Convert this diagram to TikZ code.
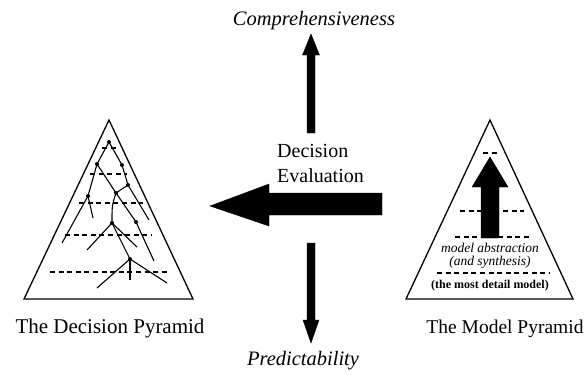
\documentclass[tikz,border=0pt]{standalone}
\usepackage{fontspec}
\setmainfont{Liberation Serif}
\begin{document}
\begin{tikzpicture}[x=1pt,y=-1pt,
  tri/.style={draw=black,line width=1.3pt,line join=miter},
  dl/.style={draw=black,line width=1.2pt,dash pattern=on 5pt off 3.6pt},
  br/.style={draw=black,line width=1.1pt},
  dot/.style={circle,fill=black,inner sep=0pt,minimum size=4pt},
  blk/.style={fill=black,draw=black,line width=0.4pt,line join=miter},
  title/.style={anchor=base},
  axis/.style={font=\fontsize{20.5}{24}\selectfont\itshape,anchor=base},
  lbl/.style={font=\fontsize{20}{24}\selectfont,anchor=base west,inner sep=0pt}]
\useasboundingbox (0,0) rectangle (587,383);
% ---------------- left pyramid
\coordinate (la) at (109,120);
\coordinate (ll) at (24,299);
\coordinate (lr) at (193,299);
\draw[tri] (la) -- (ll) -- (lr) -- cycle;
% dashed levels
\draw[dl] (102,148) -- (116,148);
\draw[dl] (90,174) -- (127,174);
\draw[dl] (79,203) -- (143,203);
\draw[dl] (65,235) -- (152,235);
\draw[dl] (50,272) -- (168,272);
% tree
\node[dot] (A) at (109,142) {};
\node[dot] (B) at (97,164) {};
\node[dot] (C) at (122,165) {};
\node[dot] (D) at (128,185) {};
\node[dot] (E) at (116,193) {};
\node[dot] (F) at (88,196) {};
\node[dot] (G) at (136,222) {};
\node[dot] (H) at (112,223) {};
\node[dot] (I) at (130,259) {};
\coordinate (F1) at (62,243);
\coordinate (F2) at (93,218);
\coordinate (D1) at (149,220);
\coordinate (G1) at (154,261);
\coordinate (H1) at (87,250);
\coordinate (H2) at (137,247);
\coordinate (I1) at (97,288);
\coordinate (I2) at (130,280);
\coordinate (I3) at (167,283);
\draw[br] (A.center) -- (B.center) -- (F.center) -- (F1);
\draw[br] (F.center) -- (F2);
\draw[br] (A.center) -- (C.center) -- (D.center) -- (D1);
\draw[br] (D.center) -- (E.center);
\draw[br] (B.center) -- (E.center) -- (G.center) -- (G1);
\draw[br] (E.center) .. controls (112,205) .. (H.center);
\draw[br] (H.center) -- (H1);
\draw[br] (H.center) -- (H2);
\draw[br] (H.center) -- (I.center);
\draw[br] (I.center) -- (I1);
\draw[br] (I.center) -- (I2);
\draw[br] (I.center) -- (I3);
\node[title,font=\fontsize{21}{24}\selectfont] (lt) at (110,333) {The Decision Pyramid};
% ---------------- right pyramid
\coordinate (ra) at (490,120);
\coordinate (rl) at (406,299);
\coordinate (rr) at (573,299);
\draw[tri] (ra) -- (rl) -- (rr) -- cycle;
\draw[dl] (483,153) -- (497,153);
\draw[dl] (460,211) -- (524,211);
\draw[dl] (455,237) -- (531,237);
\draw[dl] (437,273) -- (549,273);
\coordinate (mt) at (490,157);
\draw[blk] (mt) -- (508,187) -- (499,187) -- (499,238) -- (481,238) -- (481,187) -- (472,187) -- cycle;
\node[font=\fontsize{13.5}{15}\selectfont\itshape,inner sep=0pt] (ma) at (490,248) {model abstraction};
\node[font=\fontsize{13.5}{15}\selectfont\itshape,inner sep=0pt] (ms) at (490,262) {(and synthesis)};
\node[font=\fontsize{12}{14}\selectfont\bfseries,inner sep=0pt] (md) at (490,286) {(the most detail model)};
\node[title,font=\fontsize{19.5}{24}\selectfont] (rt) at (505,333) {The Model Pyramid};
% ---------------- centre
\node[axis] (comp) at (314,25) {Comprehensiveness};
\node[axis] (pred) at (303,365) {Predictability};
\node[lbl] (dec) at (277,157) {Decision};
\node[lbl] (eva) at (277,182) {Evaluation};
% up arrow
\draw[blk] (311,34) -- (319.5,55) -- (315,55) -- (315,133) -- (307,133) -- (307,55) -- (302.5,55) -- cycle;
% down arrow
\draw[blk] (311,343) -- (319,320) -- (315,320) -- (315,243) -- (307,243) -- (307,320) -- (303,320) -- cycle;
% left arrow
\draw[blk] (210,206) -- (269,184) -- (269,193) -- (382,193) -- (382,215) -- (269,215) -- (269,226) -- cycle;
\end{tikzpicture}
\end{document}
